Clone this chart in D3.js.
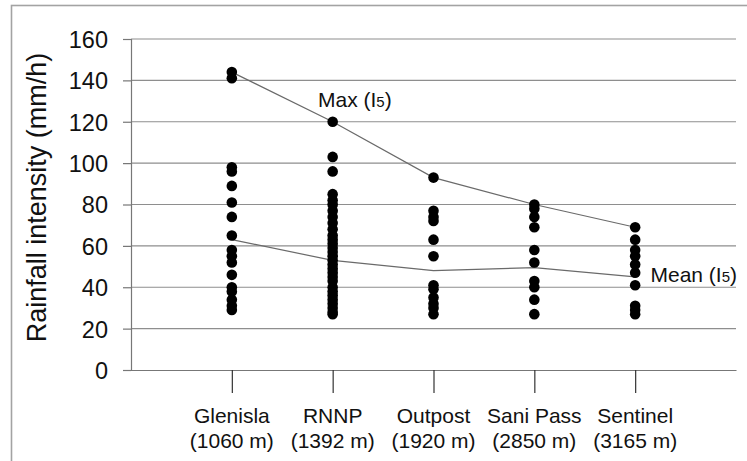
<!DOCTYPE html>
<html>
<head>
<meta charset="utf-8">
<script src="https://cdn.jsdelivr.net/npm/d3@7"></script>
<style>
  html, body { margin: 0; padding: 0; background: #fff; }
  svg { display: block; font-family: "Liberation Sans", Arial, sans-serif; }
</style>
</head>
<body>
<svg id="chart" width="747" height="461"></svg>
<script>
// Station names and elevations (x axis)
const categories = ["Glenisla", "RNNP", "Outpost", "Sani Pass", "Sentinel"];
const elevations = ["(1060 m)", "(1392 m)", "(1920 m)", "(2850 m)", "(3165 m)"];

// Individual storm I5 intensities per station (mm/h)
const glenisla = [144, 141, 98, 96, 89, 81, 74, 65, 58, 55, 52, 46, 40, 38, 34, 31, 29];
const rnnp = [120, 103, 96, 85, 82, 80, 77, 74, 71, 68, 65, 63, 61, 59, 57, 55, 53, 51, 49, 47, 45, 43, 40, 38, 36, 34, 32, 30, 28, 27];
const outpost = [93, 77, 74, 72, 63, 55, 41, 39, 35, 32, 30, 27];
const saniPass = [80, 78, 74, 69, 58, 52, 43, 40, 34, 27];
const sentinel = [69, 63, 58, 55, 51, 47, 41, 31, 29, 27];

// Summary lines
const maxI5 = [144, 120, 93, 80, 69];
const meanI5 = [63, 53, 48, 49.5, 45];

// Y axis ticks
const yTicks = [0, 20, 40, 60, 80, 100, 120, 140, 160];

const stationValues = [glenisla, rnnp, outpost, saniPass, sentinel];

const svg = d3.select("#chart");

const plotLeft = 131, plotRight = 736, plotTop = 39, plotBottom = 370;

const x = d3.scalePoint().domain(categories).range([plotLeft, plotRight]).padding(1);
const y = d3.scaleLinear().domain([0, 160]).range([plotBottom, plotTop]);

// Outer frame
svg.append("rect")
  .attr("x", 11.5).attr("y", 5.5)
  .attr("width", 800).attr("height", 500)
  .attr("fill", "none")
  .attr("stroke", "#a3a3a3")
  .attr("stroke-width", 1.6);

// Horizontal gridlines
svg.append("g")
  .selectAll("line")
  .data(yTicks.filter(d => d > 0))
  .join("line")
  .attr("x1", plotLeft).attr("x2", plotRight)
  .attr("y1", d => y(d)).attr("y2", d => y(d))
  .attr("stroke", "#8e8e8e")
  .attr("stroke-width", 1.2);

// Y axis
const yAxis = svg.append("g")
  .attr("transform", `translate(${plotLeft},0)`)
  .call(d3.axisLeft(y).tickValues(yTicks).tickSize(8).tickPadding(15));
yAxis.select(".domain").attr("stroke", "#777").attr("stroke-width", 1.2);
yAxis.selectAll(".tick line").attr("stroke", "#777").attr("stroke-width", 1.2);
yAxis.selectAll(".tick text")
  .attr("font-size", 23.5)
  .attr("font-family", "Liberation Sans, Arial, sans-serif")
  .attr("fill", "#111")
  .attr("dy", "0.36em");

// X axis
const xAxis = svg.append("g")
  .attr("transform", `translate(0,${plotBottom})`)
  .call(d3.axisBottom(x).tickSize(23).tickSizeOuter(0).tickFormat(""));
xAxis.select(".domain").attr("stroke", "#777").attr("stroke-width", 1.2);
xAxis.selectAll(".tick line").attr("stroke", "#333").attr("stroke-width", 1.2);

// Two-line category labels
const labels = svg.append("g")
  .attr("font-size", 21)
  .attr("fill", "#111")
  .attr("text-anchor", "middle");
labels.selectAll("text")
  .data(categories)
  .join("text")
  .each(function(d, i) {
    const t = d3.select(this);
    t.append("tspan").attr("x", x(d)).attr("y", 422.5).text(d);
    t.append("tspan").attr("x", x(d)).attr("y", 447.5).text(elevations[i]);
  });

// Y axis title
svg.append("text")
  .attr("transform", "translate(46,197.5) rotate(-90)")
  .attr("text-anchor", "middle")
  .attr("font-size", 27)
  .attr("fill", "#111")
  .text("Rainfall intensity (mm/h)");

// Max and mean lines
const line = d3.line().x((d, i) => x(categories[i])).y(d => y(d));
svg.append("path")
  .datum(maxI5)
  .attr("d", line)
  .attr("fill", "none")
  .attr("stroke", "#6a6a6a")
  .attr("stroke-width", 1.2);
svg.append("path")
  .datum(meanI5)
  .attr("d", line)
  .attr("fill", "none")
  .attr("stroke", "#6a6a6a")
  .attr("stroke-width", 1.2);

// Storm points
const points = stationValues.flatMap((vals, i) => vals.map(v => ({ c: categories[i], v })));
svg.append("g")
  .selectAll("circle")
  .data(points)
  .join("circle")
  .attr("cx", d => x(d.c))
  .attr("cy", d => y(d.v))
  .attr("r", 5.3)
  .attr("fill", "#000");

// Line labels
function seriesLabel(xPos, yPos, word) {
  const t = svg.append("text")
    .attr("x", xPos).attr("y", yPos)
    .attr("font-size", 21)
    .attr("fill", "#111");
  t.append("tspan").text(word + " (I");
  t.append("tspan").attr("font-size", 15).text("5");
  t.append("tspan").text(")");
}
seriesLabel(318, 106.5, "Max");
seriesLabel(650.5, 281.5, "Mean");
</script>
</body>
</html>
